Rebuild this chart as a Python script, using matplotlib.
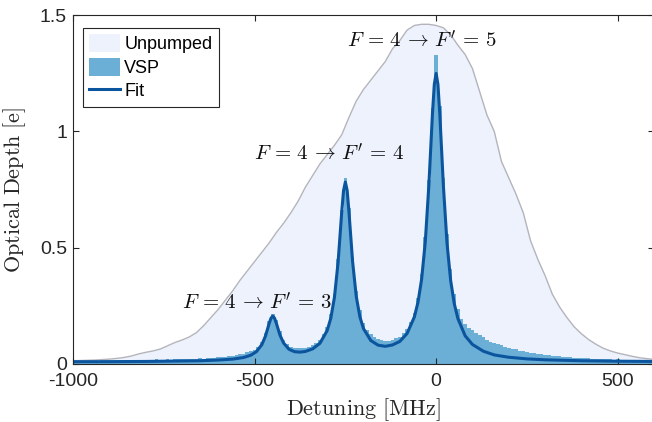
import matplotlib
matplotlib.use("Agg")
import matplotlib.pyplot as plt
import numpy as np

plt.rcParams['mathtext.fontset'] = 'cm'
plt.rcParams['axes.unicode_minus'] = False
plt.rcParams['font.family'] = ['Liberation Sans', 'DejaVu Sans']

# unpumped optical depth, 20 MHz steps from -1000 to 600
unp_mhz = np.arange(-1000, 601, 20)
unpumped = [0.014, 0.015, 0.016, 0.017, 0.019, 0.021, 0.024, 0.028, 0.034, 0.043,
            0.050, 0.056, 0.064, 0.078, 0.092, 0.103, 0.116, 0.135, 0.165, 0.200,
            0.235, 0.275, 0.315, 0.360, 0.400, 0.440, 0.480, 0.520, 0.565, 0.605,
            0.650, 0.700, 0.760, 0.810, 0.860, 0.900, 0.940, 0.985, 1.060, 1.130,
            1.180, 1.220, 1.260, 1.300, 1.355, 1.390, 1.435, 1.455, 1.460, 1.460,
            1.455, 1.445, 1.415, 1.370, 1.330, 1.270, 1.170, 1.070, 1.000, 0.870,
            0.800, 0.730, 0.650, 0.530, 0.450, 0.380, 0.300, 0.245, 0.200, 0.160,
            0.130, 0.105, 0.085, 0.068, 0.056, 0.047, 0.040, 0.033, 0.027, 0.023,
            0.020]

# velocity selective pumped spectrum, 10 MHz bins
vsp_mhz = np.arange(-1000, 601, 10)
vsp = [0.014, 0.016, 0.015, 0.017, 0.015, 0.016, 0.018, 0.015, 0.016, 0.017,
       0.016, 0.018, 0.016, 0.017, 0.019, 0.016, 0.018, 0.017, 0.019, 0.018,
       0.017, 0.019, 0.018, 0.020, 0.018, 0.019, 0.021, 0.019, 0.020, 0.022,
       0.020, 0.022, 0.021, 0.023, 0.022, 0.024, 0.023, 0.025, 0.026, 0.027,
       0.028, 0.030, 0.031, 0.033, 0.035, 0.038, 0.041, 0.045, 0.050, 0.056,
       0.060, 0.072, 0.095, 0.135, 0.185, 0.215, 0.190, 0.140, 0.105, 0.085,
       0.075, 0.070, 0.068, 0.067, 0.070, 0.075, 0.082, 0.092, 0.105, 0.128,
       0.160, 0.215, 0.300, 0.450, 0.660, 0.800, 0.670, 0.460, 0.315, 0.230,
       0.175, 0.145, 0.128, 0.115, 0.107, 0.102, 0.100, 0.100, 0.104, 0.110,
       0.118, 0.132, 0.150, 0.180, 0.220, 0.285, 0.385, 0.545, 0.790, 1.100,
       1.330, 1.110, 0.800, 0.560, 0.410, 0.300, 0.235, 0.195, 0.170, 0.155,
       0.146, 0.135, 0.125, 0.115, 0.105, 0.095, 0.090, 0.085, 0.080, 0.075,
       0.070, 0.066, 0.063, 0.058, 0.054, 0.052, 0.049, 0.046, 0.043, 0.041,
       0.040, 0.038, 0.036, 0.035, 0.033, 0.031, 0.030, 0.029, 0.027, 0.026,
       0.026, 0.025, 0.024, 0.023, 0.022, 0.022, 0.021, 0.020, 0.021, 0.019,
       0.020, 0.019, 0.018, 0.018, 0.017, 0.017, 0.016, 0.016, 0.015, 0.016,
       0.015]

# fitted curve
fit_mhz = [-1000, -900, -800, -700, -650, -600, -560, -530, -510, -495, -480,
           -470, -460, -455, -450, -445, -440, -430, -420, -405, -390,
           -375, -360, -340, -320, -300, -290, -280, -270, -260, -255,
           -250, -245, -240, -230, -220, -210, -200, -180, -160, -140,
           -120, -100, -80, -60, -50, -40, -30, -20, -10, -5,
           0, 5, 10, 20, 30, 40, 50, 60, 80, 100,
           130, 160, 200, 250, 300, 400, 500, 600]
fit_od = [0.010, 0.010, 0.011, 0.013, 0.014, 0.017, 0.021, 0.028, 0.038, 0.053, 0.083,
          0.120, 0.173, 0.196, 0.206, 0.197, 0.175, 0.124, 0.090, 0.063, 0.053,
          0.051, 0.054, 0.065, 0.089, 0.144, 0.197, 0.287, 0.437, 0.652, 0.745,
          0.782, 0.746, 0.653, 0.440, 0.291, 0.203, 0.152, 0.101, 0.081, 0.076,
          0.082, 0.097, 0.131, 0.202, 0.265, 0.364, 0.522, 0.768, 1.079, 1.202,
          1.249, 1.202, 1.078, 0.766, 0.519, 0.359, 0.259, 0.195, 0.121, 0.084,
          0.055, 0.039, 0.029, 0.022, 0.018, 0.014, 0.012, 0.011]

labels = [r'$F\,=\,4\,\rightarrow\,F^{\prime}\,=\,3$',
          r'$F\,=\,4\,\rightarrow\,F^{\prime}\,=\,4$',
          r'$F\,=\,4\,\rightarrow\,F^{\prime}\,=\,5$']
label_x = [-494, -295, -40]
label_y = [0.262, 0.905, 1.39]

fig = plt.figure(figsize=(6.52, 4.22), dpi=100)
ax = fig.add_axes([73/652, 58/422, 581/652, 349/422])

h_unp = ax.fill_between(unp_mhz, unpumped, color='#EEF2FD', linewidth=0, label='Unpumped')
ax.plot(unp_mhz, unpumped, color='#B4B4BC', lw=1.0)
h_vsp = ax.bar(vsp_mhz, vsp, width=10, color='#6BAED6', linewidth=0, label='VSP')
h_fit, = ax.plot(fit_mhz, fit_od, color='#0B559F', lw=2.2, label='Fit')

for t, x, y in zip(labels, label_x, label_y):
    ax.text(x, y, t, fontsize=15, ha='center', va='center', color='#111111')

ax.set_xlim(-1000, 600)
ax.set_ylim(0, 1.5)
ax.set_xticks([-1000, -500, 0, 500])
ax.set_yticks([0, 0.5, 1, 1.5])
ax.set_yticklabels(['0', '0.5', '1', '1.5'])
ax.tick_params(direction='in', length=4, width=0.8, top=True, right=True,
               labelsize=14, colors='#262626')
ax.tick_params(axis='x', pad=6.5)
ax.tick_params(axis='y', pad=4.3)
for s in ax.spines.values():
    s.set_color('#262626')
    s.set_linewidth(0.8)

ax.set_xlabel(r'$\mathrm{Detuning\ [MHz]}$', fontsize=16, color='#262626')
ax.set_ylabel(r'$\mathrm{Optical\ Depth\ [e]}$', fontsize=16, color='#262626')
ax.xaxis.set_label_coords(0.5, -0.093)
ax.yaxis.set_label_coords(-0.077, 0.5)

leg = ax.legend([h_unp, h_vsp, h_fit], ['Unpumped', 'VSP', 'Fit'],
                loc='upper left', bbox_to_anchor=(0.017, 0.963), borderaxespad=0,
                fontsize=13, fancybox=False, framealpha=1, edgecolor='#262626',
                handlelength=1.7, handleheight=1.15, handletextpad=0.25,
                labelspacing=0.25, borderpad=0.35)
leg.get_frame().set_linewidth(0.8)

fig.savefig('out.png', dpi=100)
